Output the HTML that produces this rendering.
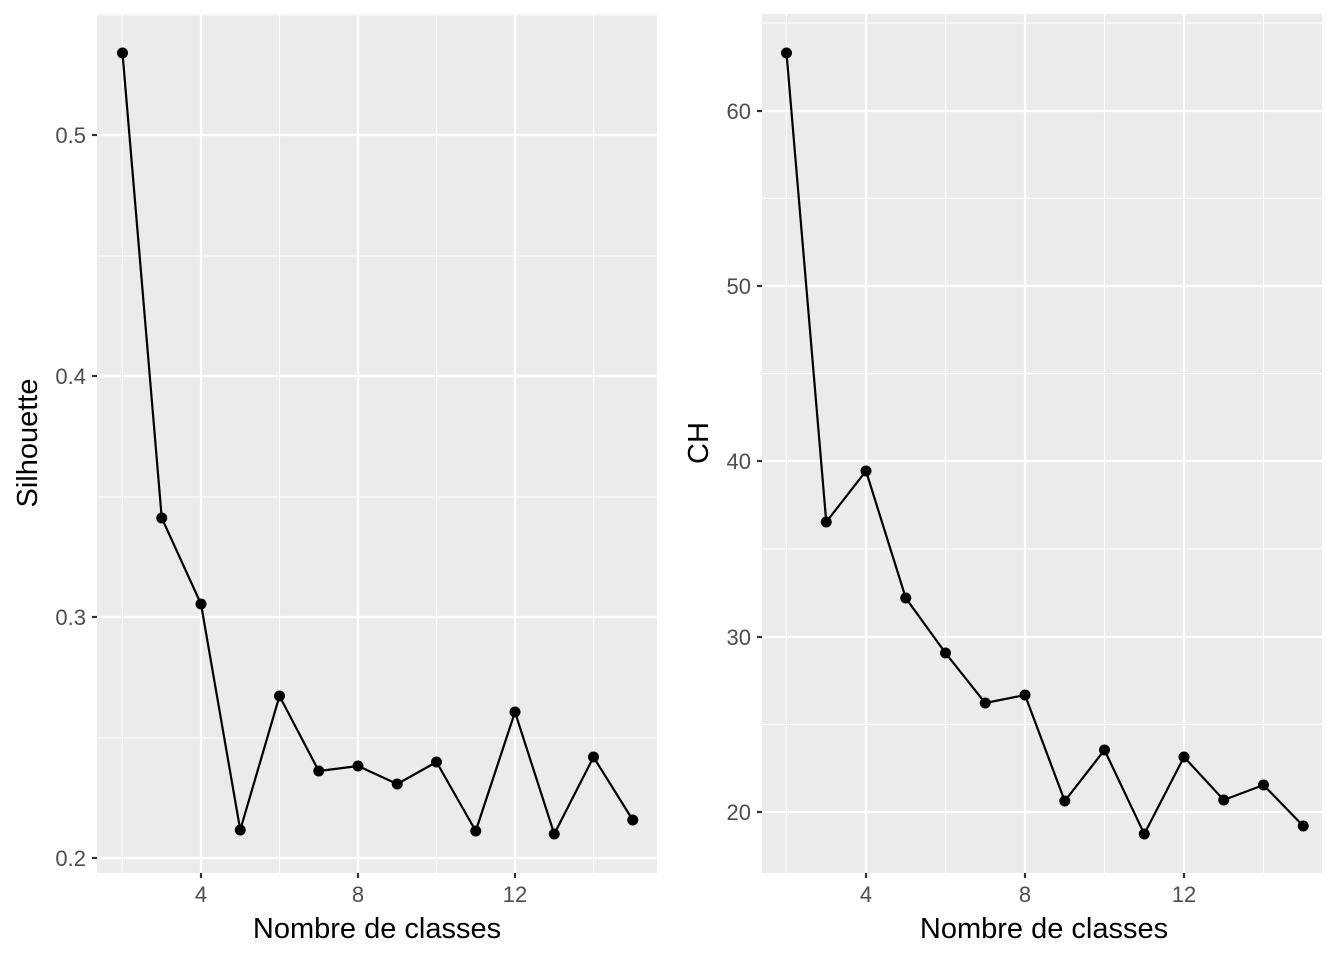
<!DOCTYPE html><html><head><style>body{margin:0;background:#fff}svg{display:block}.t{font-size:22px;fill:#4D4D4D}.a{font-size:29px;fill:#000}</style></head><body>
<svg width="1344" height="960" xmlns="http://www.w3.org/2000/svg" style="font-family:'Liberation Sans',sans-serif">
<rect x="97" y="14" width="560" height="859" fill="#EBEBEB"/>
<g stroke="#fff" stroke-width="1.1">
<line x1="97" x2="657" y1="256" y2="256"/><line x1="97" x2="657" y1="497" y2="497"/><line x1="97" x2="657" y1="738" y2="738"/><line x1="97" x2="657" y1="15" y2="15"/>
<line y1="14" y2="873" x1="122.5" x2="122.5"/><line y1="14" y2="873" x1="279.5" x2="279.5"/><line y1="14" y2="873" x1="436.5" x2="436.5"/><line y1="14" y2="873" x1="593.5" x2="593.5"/>
</g>
<g stroke="#fff" stroke-width="2.2">
<line x1="97" x2="657" y1="135" y2="135"/><line x1="97" x2="657" y1="376" y2="376"/><line x1="97" x2="657" y1="617" y2="617"/><line x1="97" x2="657" y1="858" y2="858"/>
<line y1="14" y2="873" x1="201" x2="201"/><line y1="14" y2="873" x1="358" x2="358"/><line y1="14" y2="873" x1="515" x2="515"/>
</g>
<g stroke="#333" stroke-width="2.2">
<line x1="92" x2="97" y1="135" y2="135"/><line x1="92" x2="97" y1="376" y2="376"/><line x1="92" x2="97" y1="617" y2="617"/><line x1="92" x2="97" y1="858" y2="858"/>
<line x1="201" x2="201" y1="873" y2="878"/><line x1="358" x2="358" y1="873" y2="878"/><line x1="515" x2="515" y1="873" y2="878"/>
</g>
<g class="t" text-anchor="end">
<text x="86" y="143">0.5</text><text x="86" y="384">0.4</text><text x="86" y="625">0.3</text><text x="86" y="866">0.2</text>
</g>
<g class="t" text-anchor="middle">
<text x="201" y="902">4</text><text x="358" y="902">8</text><text x="515" y="902">12</text>
</g>
<text class="a" x="377" y="938" text-anchor="middle">Nombre de classes</text>
<text class="a" transform="translate(37,443) rotate(-90)" text-anchor="middle">Silhouette</text>
<polyline fill="none" stroke="#000" stroke-width="2.2" points="122.5,53 161.75,518 201,604 240.25,830 279.5,696 318.75,771 358,766 397.25,784 436.5,762 475.75,831 515,712 554.25,834 593.5,757 632.75,820"/>
<g fill="#000"><circle cx="122.5" cy="53" r="5.5"/><circle cx="161.75" cy="518" r="5.5"/><circle cx="201" cy="604" r="5.5"/><circle cx="240.25" cy="830" r="5.5"/><circle cx="279.5" cy="696" r="5.5"/><circle cx="318.75" cy="771" r="5.5"/><circle cx="358" cy="766" r="5.5"/><circle cx="397.25" cy="784" r="5.5"/><circle cx="436.5" cy="762" r="5.5"/><circle cx="475.75" cy="831" r="5.5"/><circle cx="515" cy="712" r="5.5"/><circle cx="554.25" cy="834" r="5.5"/><circle cx="593.5" cy="757" r="5.5"/><circle cx="632.75" cy="820" r="5.5"/></g>

<rect x="762" y="14" width="560" height="859" fill="#EBEBEB"/>
<g stroke="#fff" stroke-width="1.1">
<line x1="762" x2="1322" y1="23" y2="23"/><line x1="762" x2="1322" y1="198.5" y2="198.5"/><line x1="762" x2="1322" y1="373.5" y2="373.5"/><line x1="762" x2="1322" y1="549" y2="549"/><line x1="762" x2="1322" y1="724.5" y2="724.5"/>
<line y1="14" y2="873" x1="786.5" x2="786.5"/><line y1="14" y2="873" x1="945.5" x2="945.5"/><line y1="14" y2="873" x1="1104.5" x2="1104.5"/><line y1="14" y2="873" x1="1263.5" x2="1263.5"/>
</g>
<g stroke="#fff" stroke-width="2.2">
<line x1="762" x2="1322" y1="111" y2="111"/><line x1="762" x2="1322" y1="286" y2="286"/><line x1="762" x2="1322" y1="461" y2="461"/><line x1="762" x2="1322" y1="637" y2="637"/><line x1="762" x2="1322" y1="812" y2="812"/>
<line y1="14" y2="873" x1="866" x2="866"/><line y1="14" y2="873" x1="1025" x2="1025"/><line y1="14" y2="873" x1="1184" x2="1184"/>
</g>
<g stroke="#333" stroke-width="2.2">
<line x1="757" x2="762" y1="111" y2="111"/><line x1="757" x2="762" y1="286" y2="286"/><line x1="757" x2="762" y1="461" y2="461"/><line x1="757" x2="762" y1="637" y2="637"/><line x1="757" x2="762" y1="812" y2="812"/>
<line x1="866" x2="866" y1="873" y2="878"/><line x1="1025" x2="1025" y1="873" y2="878"/><line x1="1184" x2="1184" y1="873" y2="878"/>
</g>
<g class="t" text-anchor="end">
<text x="751" y="119">60</text><text x="751" y="294">50</text><text x="751" y="469">40</text><text x="751" y="645">30</text><text x="751" y="820">20</text>
</g>
<g class="t" text-anchor="middle">
<text x="866" y="902">4</text><text x="1025" y="902">8</text><text x="1184" y="902">12</text>
</g>
<text class="a" x="1044" y="938" text-anchor="middle">Nombre de classes</text>
<text class="a" transform="translate(708,443) rotate(-90)" text-anchor="middle">CH</text>
<polyline fill="none" stroke="#000" stroke-width="2.2" points="786.5,53 826.25,522 866,471 905.75,598 945.5,653 985.25,703 1025,695 1064.75,801 1104.5,750 1144.25,834 1184,757 1223.75,800 1263.5,785 1303.25,826"/>
<g fill="#000"><circle cx="786.5" cy="53" r="5.5"/><circle cx="826.25" cy="522" r="5.5"/><circle cx="866" cy="471" r="5.5"/><circle cx="905.75" cy="598" r="5.5"/><circle cx="945.5" cy="653" r="5.5"/><circle cx="985.25" cy="703" r="5.5"/><circle cx="1025" cy="695" r="5.5"/><circle cx="1064.75" cy="801" r="5.5"/><circle cx="1104.5" cy="750" r="5.5"/><circle cx="1144.25" cy="834" r="5.5"/><circle cx="1184" cy="757" r="5.5"/><circle cx="1223.75" cy="800" r="5.5"/><circle cx="1263.5" cy="785" r="5.5"/><circle cx="1303.25" cy="826" r="5.5"/></g>
</svg>
</body></html>
